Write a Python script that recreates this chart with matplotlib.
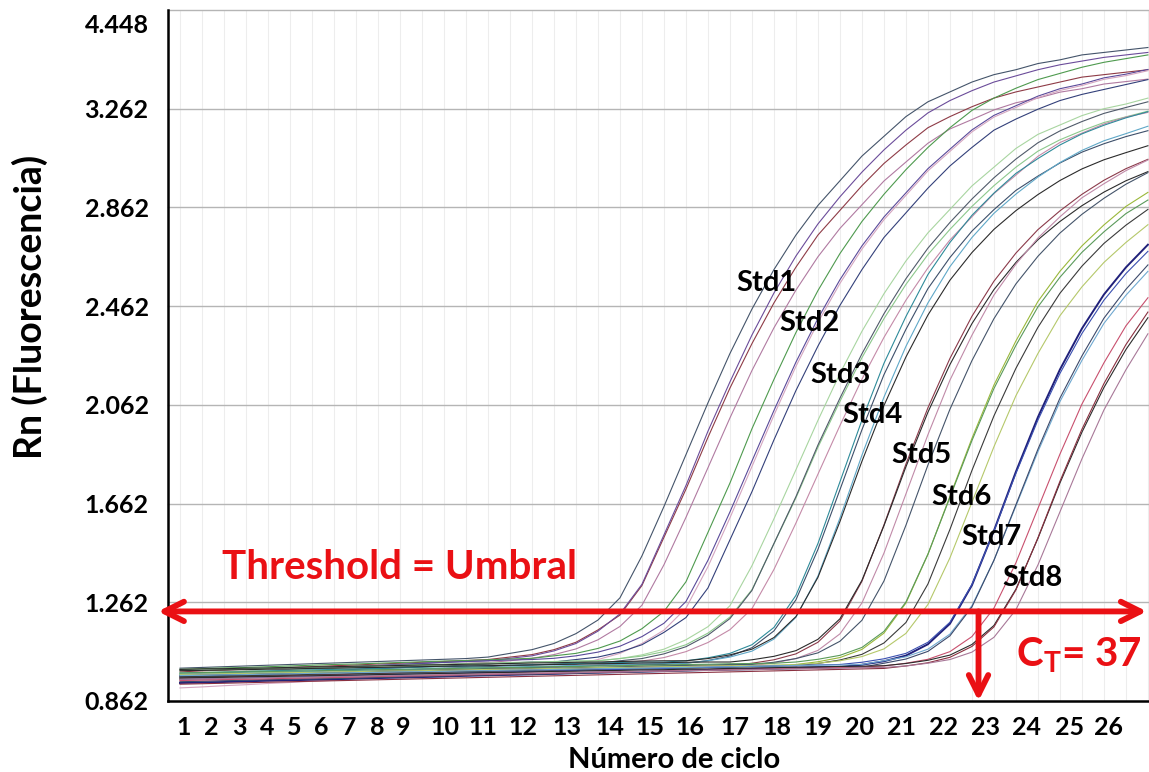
import matplotlib
matplotlib.use("Agg")
import matplotlib.pyplot as plt
from matplotlib.patches import FancyArrowPatch
from matplotlib.transforms import ScaledTranslation

plt.rcParams['font.family'] = 'Lato'
plt.rcParams['mathtext.fontset'] = 'custom'
plt.rcParams['mathtext.rm'] = 'Lato'
plt.rcParams['mathtext.bf'] = 'Lato:bold'

# Amplification cycles and Rn readings for each standard (4 replicate wells)
cycles = list(range(1, 46))

std1_runs = [
    [0.995, 0.998, 1.001, 1.004, 1.007, 1.010, 1.013, 1.016, 1.019, 1.022, 1.025, 1.028, 1.031, 1.034,
     1.040, 1.055, 1.070, 1.095, 1.135, 1.190, 1.280, 1.450, 1.650, 1.860, 2.070, 2.270, 2.450, 2.610,
     2.750, 2.870, 2.970, 3.070, 3.150, 3.230, 3.290, 3.330, 3.370, 3.400, 3.420, 3.445, 3.460, 3.480,
     3.490, 3.500, 3.510],
    [0.980, 0.984, 0.987, 0.991, 0.994, 0.998, 1.001, 1.005, 1.008, 1.012, 1.015, 1.019, 1.022, 1.026,
     1.030, 1.040, 1.050, 1.070, 1.100, 1.150, 1.210, 1.330, 1.525, 1.720, 1.930, 2.130, 2.310, 2.475,
     2.620, 2.750, 2.850, 2.950, 3.040, 3.115, 3.185, 3.230, 3.270, 3.305, 3.330, 3.350, 3.370, 3.390,
     3.400, 3.410, 3.420],
    [0.965, 0.970, 0.974, 0.979, 0.983, 0.988, 0.992, 0.997, 1.001, 1.006, 1.010, 1.015, 1.019, 1.022,
     1.025, 1.035, 1.045, 1.065, 1.095, 1.145, 1.215, 1.335, 1.535, 1.735, 1.955, 2.155, 2.345, 2.515,
     2.665, 2.795, 2.905, 3.005, 3.095, 3.175, 3.245, 3.295, 3.335, 3.370, 3.395, 3.420, 3.440, 3.455,
     3.470, 3.480, 3.490],
    [0.950, 0.955, 0.960, 0.965, 0.970, 0.975, 0.980, 0.985, 0.990, 0.995, 1.000, 1.005, 1.010, 1.015,
     1.018, 1.025, 1.035, 1.050, 1.073, 1.110, 1.164, 1.250, 1.414, 1.606, 1.807, 2.009, 2.201, 2.374,
     2.527, 2.662, 2.777, 2.873, 2.969, 3.046, 3.122, 3.180, 3.218, 3.257, 3.286, 3.305, 3.329, 3.343,
     3.362, 3.372, 3.382],
]
std2_runs = [
    [0.990, 0.993, 0.996, 0.998, 1.001, 1.004, 1.007, 1.010, 1.012, 1.015, 1.018, 1.021, 1.024, 1.026,
     1.029, 1.032, 1.035, 1.045, 1.055, 1.075, 1.105, 1.155, 1.225, 1.345, 1.545, 1.745, 1.965, 2.165,
     2.355, 2.525, 2.675, 2.805, 2.915, 3.015, 3.105, 3.185, 3.255, 3.305, 3.345, 3.380, 3.405, 3.430,
     3.450, 3.465, 3.480],
    [0.970, 0.974, 0.978, 0.982, 0.986, 0.990, 0.994, 0.998, 1.002, 1.006, 1.010, 1.014, 1.018, 1.022,
     1.025, 1.028, 1.030, 1.035, 1.045, 1.060, 1.084, 1.123, 1.177, 1.265, 1.432, 1.628, 1.834, 2.039,
     2.235, 2.412, 2.569, 2.706, 2.823, 2.921, 3.019, 3.098, 3.176, 3.235, 3.274, 3.313, 3.343, 3.362,
     3.387, 3.402, 3.421],
    [0.915, 0.919, 0.924, 0.928, 0.933, 0.937, 0.942, 0.946, 0.951, 0.955, 0.960, 0.964, 0.969, 0.973,
     0.978, 0.982, 0.987, 0.996, 1.011, 1.030, 1.055, 1.095, 1.149, 1.238, 1.406, 1.604, 1.812, 2.020,
     2.218, 2.396, 2.554, 2.693, 2.812, 2.911, 3.010, 3.089, 3.168, 3.228, 3.267, 3.307, 3.336, 3.356,
     3.381, 3.396, 3.416],
    [0.960, 0.964, 0.967, 0.971, 0.975, 0.979, 0.982, 0.986, 0.990, 0.993, 0.997, 1.001, 1.004, 1.008,
     1.012, 1.016, 1.020, 1.020, 1.030, 1.040, 1.060, 1.090, 1.140, 1.200, 1.320, 1.515, 1.710, 1.920,
     2.120, 2.300, 2.465, 2.610, 2.740, 2.840, 2.940, 3.030, 3.105, 3.175, 3.220, 3.260, 3.295, 3.320,
     3.340, 3.360, 3.380],
]
std3_runs = [
    [0.975, 0.978, 0.980, 0.983, 0.986, 0.988, 0.991, 0.994, 0.997, 0.999, 1.002, 1.005, 1.007, 1.010,
     1.013, 1.015, 1.018, 1.020, 1.020, 1.025, 1.034, 1.049, 1.072, 1.110, 1.163, 1.248, 1.410, 1.600,
     1.799, 1.999, 2.189, 2.360, 2.512, 2.645, 2.759, 2.854, 2.949, 3.025, 3.101, 3.158, 3.196, 3.234,
     3.262, 3.281, 3.305],
    [0.985, 0.987, 0.989, 0.992, 0.994, 0.996, 0.998, 1.000, 1.003, 1.005, 1.007, 1.009, 1.011, 1.014,
     1.016, 1.018, 1.020, 1.022, 1.025, 1.025, 1.034, 1.044, 1.062, 1.090, 1.137, 1.202, 1.313, 1.499,
     1.685, 1.890, 2.076, 2.253, 2.411, 2.550, 2.671, 2.773, 2.866, 2.950, 3.025, 3.090, 3.136, 3.173,
     3.206, 3.229, 3.252],
    [0.955, 0.958, 0.962, 0.965, 0.968, 0.972, 0.975, 0.978, 0.981, 0.985, 0.988, 0.991, 0.995, 0.998,
     1.001, 1.005, 1.008, 1.011, 1.015, 1.015, 1.025, 1.034, 1.053, 1.082, 1.129, 1.196, 1.310, 1.500,
     1.690, 1.899, 2.089, 2.269, 2.431, 2.573, 2.697, 2.801, 2.896, 2.982, 3.058, 3.124, 3.172, 3.210,
     3.243, 3.267, 3.290],
    [0.945, 0.948, 0.952, 0.955, 0.958, 0.962, 0.965, 0.968, 0.971, 0.975, 0.978, 0.981, 0.985, 0.988,
     0.991, 0.995, 0.998, 1.001, 1.004, 1.008, 1.015, 1.024, 1.038, 1.062, 1.099, 1.151, 1.236, 1.395,
     1.583, 1.781, 1.978, 2.166, 2.335, 2.486, 2.617, 2.730, 2.824, 2.918, 2.993, 3.069, 3.125, 3.163,
     3.200, 3.228, 3.247],
]
std4_runs = [
    [0.975, 0.977, 0.979, 0.981, 0.984, 0.986, 0.988, 0.990, 0.992, 0.994, 0.996, 0.999, 1.001, 1.003,
     1.005, 1.007, 1.009, 1.011, 1.014, 1.016, 1.018, 1.020, 1.020, 1.025, 1.037, 1.055, 1.090, 1.160,
     1.290, 1.500, 1.750, 2.000, 2.230, 2.420, 2.590, 2.720, 2.830, 2.920, 3.000, 3.060, 3.115, 3.160,
     3.195, 3.225, 3.250],
    [0.960, 0.962, 0.965, 0.967, 0.970, 0.972, 0.974, 0.977, 0.979, 0.982, 0.984, 0.986, 0.989, 0.991,
     0.994, 0.996, 0.998, 1.001, 1.003, 1.006, 1.008, 1.010, 1.010, 1.015, 1.026, 1.044, 1.078, 1.146,
     1.272, 1.476, 1.718, 1.961, 2.184, 2.368, 2.533, 2.659, 2.766, 2.853, 2.931, 2.989, 3.042, 3.086,
     3.120, 3.149, 3.173],
    [0.970, 0.972, 0.974, 0.976, 0.978, 0.980, 0.982, 0.984, 0.986, 0.988, 0.990, 0.992, 0.994, 0.996,
     0.998, 1.000, 1.002, 1.004, 1.006, 1.008, 1.010, 1.012, 1.014, 1.015, 1.025, 1.040, 1.064, 1.113,
     1.201, 1.368, 1.603, 1.858, 2.093, 2.299, 2.475, 2.622, 2.740, 2.838, 2.916, 2.985, 3.044, 3.093,
     3.132, 3.161, 3.191],
    [0.990, 0.992, 0.993, 0.995, 0.996, 0.998, 1.000, 1.001, 1.003, 1.004, 1.006, 1.008, 1.009, 1.011,
     1.012, 1.014, 1.016, 1.017, 1.019, 1.020, 1.022, 1.024, 1.025, 1.025, 1.034, 1.049, 1.072, 1.119,
     1.204, 1.363, 1.589, 1.833, 2.059, 2.256, 2.426, 2.567, 2.679, 2.773, 2.849, 2.914, 2.971, 3.018,
     3.055, 3.084, 3.112],
]
std5_runs = [
    [0.955, 0.957, 0.959, 0.961, 0.963, 0.966, 0.968, 0.970, 0.972, 0.974, 0.976, 0.978, 0.980, 0.982,
     0.984, 0.987, 0.989, 0.991, 0.993, 0.995, 0.997, 0.999, 1.001, 1.003, 1.005, 1.005, 1.015, 1.029,
     1.053, 1.100, 1.186, 1.347, 1.575, 1.822, 2.050, 2.250, 2.421, 2.563, 2.677, 2.772, 2.848, 2.915,
     2.972, 3.019, 3.057],
    [0.985, 0.986, 0.988, 0.989, 0.991, 0.992, 0.994, 0.995, 0.997, 0.998, 1.000, 1.001, 1.003, 1.004,
     1.005, 1.007, 1.008, 1.010, 1.011, 1.013, 1.014, 1.016, 1.017, 1.019, 1.020, 1.020, 1.029, 1.043,
     1.066, 1.112, 1.195, 1.351, 1.572, 1.811, 2.032, 2.225, 2.391, 2.529, 2.639, 2.731, 2.805, 2.869,
     2.924, 2.970, 3.007],
    [0.940, 0.942, 0.945, 0.947, 0.950, 0.952, 0.954, 0.957, 0.959, 0.962, 0.964, 0.966, 0.969, 0.971,
     0.974, 0.976, 0.978, 0.981, 0.983, 0.986, 0.988, 0.990, 0.993, 0.995, 0.998, 1.000, 1.005, 1.016,
     1.034, 1.067, 1.134, 1.259, 1.461, 1.701, 1.941, 2.162, 2.344, 2.507, 2.632, 2.738, 2.824, 2.901,
     2.958, 3.011, 3.054],
    [0.965, 0.967, 0.969, 0.970, 0.972, 0.974, 0.976, 0.978, 0.979, 0.981, 0.983, 0.985, 0.987, 0.988,
     0.990, 0.992, 0.994, 0.996, 0.997, 0.999, 1.001, 1.003, 1.005, 1.006, 1.008, 1.010, 1.010, 1.019,
     1.034, 1.057, 1.104, 1.189, 1.348, 1.574, 1.818, 2.044, 2.241, 2.411, 2.552, 2.664, 2.758, 2.834,
     2.899, 2.956, 3.003],
]
std6_runs = [
    [0.950, 0.952, 0.954, 0.956, 0.958, 0.960, 0.962, 0.964, 0.966, 0.968, 0.970, 0.972, 0.974, 0.976,
     0.978, 0.980, 0.982, 0.984, 0.986, 0.988, 0.990, 0.992, 0.994, 0.996, 0.998, 1.000, 1.002, 1.004,
     1.010, 1.021, 1.038, 1.071, 1.137, 1.259, 1.456, 1.691, 1.926, 2.142, 2.321, 2.481, 2.603, 2.706,
     2.791, 2.866, 2.923],
    [0.975, 0.977, 0.978, 0.980, 0.981, 0.983, 0.984, 0.986, 0.987, 0.989, 0.990, 0.992, 0.993, 0.995,
     0.996, 0.998, 0.999, 1.001, 1.002, 1.004, 1.005, 1.007, 1.008, 1.010, 1.011, 1.013, 1.014, 1.015,
     1.020, 1.031, 1.047, 1.079, 1.144, 1.263, 1.457, 1.687, 1.917, 2.128, 2.303, 2.459, 2.579, 2.680,
     2.763, 2.837, 2.892],
    [0.960, 0.962, 0.963, 0.965, 0.966, 0.968, 0.970, 0.971, 0.973, 0.974, 0.976, 0.978, 0.979, 0.981,
     0.982, 0.984, 0.986, 0.987, 0.989, 0.990, 0.992, 0.994, 0.995, 0.997, 0.998, 1.000, 1.002, 1.003,
     1.005, 1.014, 1.028, 1.051, 1.097, 1.180, 1.336, 1.557, 1.796, 2.017, 2.210, 2.376, 2.514, 2.624,
     2.716, 2.790, 2.854],
    [0.970, 0.971, 0.973, 0.974, 0.976, 0.977, 0.978, 0.980, 0.981, 0.983, 0.984, 0.985, 0.987, 0.988,
     0.990, 0.991, 0.992, 0.994, 0.995, 0.997, 0.998, 0.999, 1.001, 1.002, 1.004, 1.005, 1.006, 1.008,
     1.009, 1.015, 1.025, 1.042, 1.073, 1.136, 1.253, 1.442, 1.667, 1.892, 2.099, 2.270, 2.423, 2.540,
     2.639, 2.720, 2.792],
]
std7_runs = [
    [0.935, 0.937, 0.939, 0.942, 0.944, 0.946, 0.948, 0.950, 0.953, 0.955, 0.957, 0.959, 0.961, 0.964,
     0.966, 0.968, 0.970, 0.972, 0.975, 0.977, 0.979, 0.981, 0.983, 0.986, 0.988, 0.990, 0.992, 0.994,
     0.997, 0.999, 1.000, 1.009, 1.023, 1.046, 1.092, 1.175, 1.331, 1.552, 1.791, 2.012, 2.205, 2.371,
     2.509, 2.619, 2.711],
    [0.950, 0.952, 0.954, 0.956, 0.958, 0.960, 0.962, 0.964, 0.966, 0.968, 0.970, 0.972, 0.974, 0.976,
     0.978, 0.980, 0.982, 0.984, 0.986, 0.988, 0.990, 0.992, 0.994, 0.996, 0.998, 1.000, 1.002, 1.004,
     1.006, 1.008, 1.010, 1.019, 1.033, 1.055, 1.100, 1.181, 1.334, 1.550, 1.784, 2.000, 2.189, 2.351,
     2.486, 2.594, 2.684],
    [0.965, 0.966, 0.968, 0.969, 0.971, 0.972, 0.974, 0.975, 0.977, 0.978, 0.980, 0.981, 0.982, 0.984,
     0.985, 0.987, 0.988, 0.990, 0.991, 0.993, 0.994, 0.995, 0.997, 0.998, 1.000, 1.001, 1.003, 1.004,
     1.006, 1.007, 1.008, 1.010, 1.025, 1.041, 1.072, 1.133, 1.248, 1.432, 1.652, 1.872, 2.075, 2.242,
     2.392, 2.506, 2.603],
    [0.940, 0.942, 0.944, 0.946, 0.948, 0.950, 0.951, 0.953, 0.955, 0.957, 0.959, 0.961, 0.963, 0.965,
     0.967, 0.969, 0.970, 0.972, 0.974, 0.976, 0.978, 0.980, 0.982, 0.984, 0.986, 0.988, 0.989, 0.991,
     0.993, 0.995, 0.997, 0.999, 1.015, 1.032, 1.063, 1.126, 1.243, 1.432, 1.657, 1.882, 2.089, 2.260,
     2.413, 2.530, 2.629],
]
std8_runs = [
    [0.945, 0.947, 0.949, 0.950, 0.952, 0.954, 0.956, 0.957, 0.959, 0.961, 0.963, 0.964, 0.966, 0.968,
     0.970, 0.972, 0.973, 0.975, 0.977, 0.979, 0.980, 0.982, 0.984, 0.986, 0.987, 0.989, 0.991, 0.993,
     0.995, 0.996, 0.998, 1.000, 1.004, 1.015, 1.031, 1.062, 1.123, 1.238, 1.422, 1.642, 1.862, 2.065,
     2.232, 2.382, 2.496],
    [0.955, 0.957, 0.958, 0.960, 0.961, 0.963, 0.964, 0.966, 0.967, 0.969, 0.971, 0.972, 0.974, 0.975,
     0.977, 0.978, 0.980, 0.982, 0.983, 0.985, 0.986, 0.988, 0.989, 0.991, 0.992, 0.994, 0.996, 0.997,
     0.999, 1.000, 1.002, 1.003, 1.005, 1.014, 1.027, 1.048, 1.091, 1.168, 1.315, 1.521, 1.745, 1.951,
     2.132, 2.286, 2.415],
    [0.930, 0.932, 0.934, 0.936, 0.938, 0.940, 0.942, 0.944, 0.946, 0.948, 0.950, 0.952, 0.954, 0.956,
     0.958, 0.960, 0.962, 0.964, 0.966, 0.968, 0.970, 0.972, 0.974, 0.976, 0.978, 0.980, 0.982, 0.984,
     0.986, 0.988, 0.990, 0.992, 0.994, 1.004, 1.017, 1.039, 1.083, 1.162, 1.312, 1.523, 1.752, 1.963,
     2.148, 2.306, 2.438],
    [0.950, 0.952, 0.953, 0.955, 0.956, 0.958, 0.959, 0.961, 0.962, 0.964, 0.965, 0.967, 0.968, 0.970,
     0.971, 0.973, 0.974, 0.976, 0.977, 0.979, 0.980, 0.982, 0.983, 0.985, 0.986, 0.988, 0.989, 0.991,
     0.992, 0.994, 0.995, 0.997, 0.998, 1.004, 1.015, 1.030, 1.060, 1.120, 1.232, 1.413, 1.628, 1.843,
     2.041, 2.204, 2.350],
]

std_names = ['Std1', 'Std2', 'Std3', 'Std4', 'Std5', 'Std6', 'Std7', 'Std8']
all_runs = [std1_runs, std2_runs, std3_runs, std4_runs, std5_runs, std6_runs, std7_runs, std8_runs]

run_colors = [
    ['#44546a', '#8e3b46', '#6b4c9a', '#b07aa1'],
    ['#4e9a4e', '#5a4a9a', '#d4a5c0', '#33407a'],
    ['#a8d5a0', '#8cc88c', '#505a6a', '#c48aa8'],
    ['#2e8b9a', '#3d4f6a', '#5fa8c8', '#2b2b2b'],
    ['#8b3a4a', '#2b2b2b', '#c08aa8', '#44546a'],
    ['#9ab83a', '#5a9a5a', '#3a3a3a', '#b5c86a'],
    ['#20207a', '#3a4fb0', '#6fa8d0', '#3d4a6b'],
    ['#c8506e', '#2b2b2b', '#8a3040', '#a87898'],
]

y_ticks = [0.862, 1.262, 1.662, 2.062, 2.462, 2.862, 3.262, 3.662]
y_tick_labels = ['0.862', '1.262', '1.662', '2.062', '2.462', '2.862', '3.262', '4.448']
x_tick_labels = [str(i) for i in range(1, 27)]
threshold = 1.225
ct_cycle = 37.3

# where the cycle numbers sit under the axis (in cycle units)
x_label_pos = [1.18, 2.41, 3.68, 4.95, 6.18, 7.41, 8.68, 9.95, 11.14, 13.05, 14.77, 16.59, 18.59,
               20.55, 22.36, 24.18, 26.23, 28.14, 30.0, 31.9, 33.8, 35.7, 37.6, 39.5, 41.45, 43.2]
label_xy = [(27.68, 2.556), (29.64, 2.394), (31.05, 2.183), (32.5, 2.021),
            (34.73, 1.859), (36.55, 1.689), (37.91, 1.527), (39.77, 1.360)]

red = '#ea1014'

fig = plt.figure(figsize=(11.49, 7.72), dpi=100)
ax = fig.add_axes([168 / 1149, 1 - 701 / 772, 1 - 168 / 1149, 691 / 772])
ax.set_xlim(0.455, 45.05)
ax.set_ylim(0.862, 3.662)

# light vertical grid at every cycle, grey horizontal grid at every tick
for c in cycles:
    ax.axvline(c, color='#ededed', lw=0.8, zorder=0)
for y in y_ticks[1:]:
    ax.axhline(y, color='#b5b5b5', lw=1.0, zorder=1, clip_on=False)

for runs, colors in zip(all_runs, run_colors):
    for vals, col in zip(runs, colors):
        assert len(vals) == len(cycles)
        lw = 1.4 if col == '#20207a' else 0.8
        ax.plot(cycles, vals, color=col, lw=lw, zorder=2)

for name, (lx, ly) in zip(std_names, label_xy):
    ax.text(lx, ly, name, fontsize=21, fontweight='bold', ha='center', va='center', zorder=4)

for side in ['top', 'right']:
    ax.spines[side].set_visible(False)
for side in ['left', 'bottom']:
    ax.spines[side].set_linewidth(1.8)
    ax.spines[side].set_color('black')

ax.set_yticks(y_ticks)
ax.set_yticklabels(y_tick_labels, fontsize=18, fontweight='bold')
ax.set_xticks(x_label_pos)
ax.set_xticklabels(x_tick_labels, fontsize=18, fontweight='bold')
ax.tick_params(axis='both', length=0)
ax.tick_params(axis='y', pad=14)
ax.tick_params(axis='x', pad=11)
top_lbl = ax.get_yticklabels()[-1]
top_lbl.set_transform(top_lbl.get_transform() + ScaledTranslation(0, -0.13, fig.dpi_scale_trans))

fig.text(30 / 1149, 1 - 307 / 772, 'Rn (Fluorescencia)', rotation=90, fontsize=27,
         fontweight='bold', ha='center', va='center')
fig.text(674 / 1149, 1 - 760 / 772, 'Número de ciclo', fontsize=21, fontweight='bold',
         ha='center', va='center')

# threshold line with arrowheads at both ends
thr = FancyArrowPatch((0.0, threshold), (44.95, threshold),
                      arrowstyle='<->,head_length=14,head_width=7', mutation_scale=1,
                      lw=4.2, color=red, shrinkA=0, shrinkB=0, clip_on=False, zorder=5)
ax.add_patch(thr)
ct = FancyArrowPatch((ct_cycle, threshold), (ct_cycle, 0.862),
                     arrowstyle='->,head_length=14,head_width=7', mutation_scale=1,
                     lw=4.2, color=red, shrinkA=0, shrinkB=0, clip_on=False, zorder=5)
ax.add_patch(ct)

ax.text(11.0, 1.401, 'Threshold = Umbral', color=red, fontsize=29, fontweight='bold',
        ha='center', va='center', zorder=4)
ax.text(39.0, 1.048, r'C$_\mathbf{T}$= 37', color=red, fontsize=29, fontweight='bold',
        ha='left', va='center', zorder=4, clip_on=False)

fig.savefig('out.png', dpi=100)
